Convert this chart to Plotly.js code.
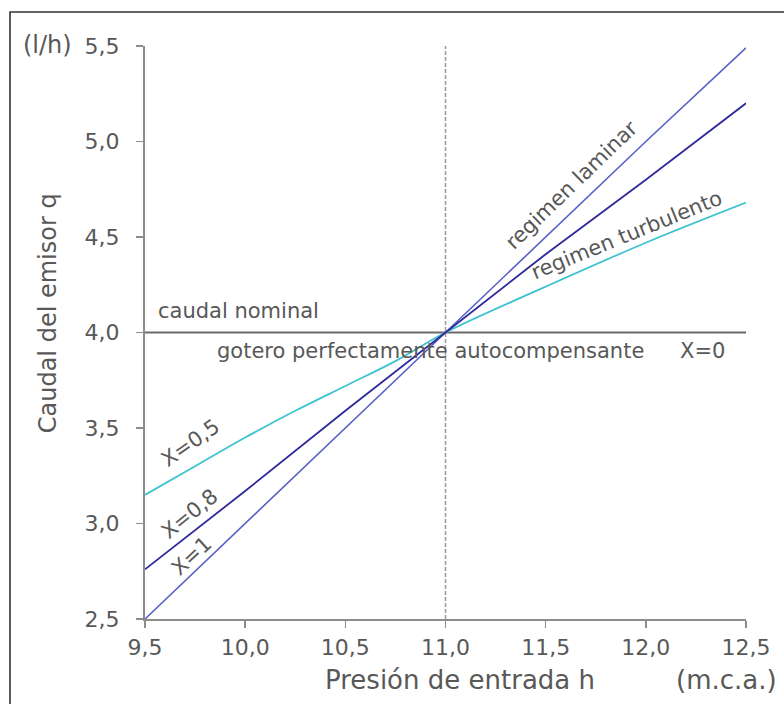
<!DOCTYPE html>
<html>
<head>
<meta charset="utf-8">
<script src="https://cdn.plot.ly/plotly-3.0.1.min.js"></script>
<style>
  html, body { margin: 0; padding: 0; background: #fff; }
  #chart { width: 784px; height: 704px; }
</style>
</head>
<body>
<div id="chart"></div>
<script>
// Presión de entrada h (m.c.a.)
const hFull = [9.5, 10.0, 10.5, 11.0, 11.5, 12.0, 12.5];
// X = 1 (régimen laminar)
const qX1 = [2.5, 3.0, 3.5, 4.0, 4.5, 5.0, 5.49];
// X = 0,8
const qX08 = [2.76, 3.17, 3.59, 4.0, 4.41, 4.80, 5.20];
// X = 0,5 (régimen turbulento)
const hX05 = [9.5, 9.75, 10.0, 10.25, 10.5, 10.75, 11.0, 11.5, 12.0, 12.5];
const qX05 = [3.15, 3.30, 3.45, 3.59, 3.72, 3.85, 4.0, 4.24, 4.47, 4.68];
// X = 0 (caudal nominal)
const hX0 = [9.5, 12.5];
const qX0 = [4.0, 4.0];
const xTicks = [9.5, 10.0, 10.5, 11.0, 11.5, 12.0, 12.5];
const yTicks = [2.5, 3.0, 3.5, 4.0, 4.5, 5.0, 5.5];
const hNominal = 11.0;

const font = "DejaVu Sans, Liberation Sans, Arial, sans-serif";
const txt = "#585858";

const traces = [
  { x: hX0, y: qX0, mode: "lines", line: { color: "#6b6b6b", width: 2 }, name: "X=0" },
  { x: hX05, y: qX05, mode: "lines", line: { color: "#3ec3d1", width: 1.8, shape: "spline" }, name: "X=0,5" },
  { x: hFull, y: qX1, mode: "lines", line: { color: "#5761c6", width: 1.6 }, name: "X=1" },
  { x: hFull, y: qX08, mode: "lines", line: { color: "#2f2a9c", width: 1.8 }, name: "X=0,8" }
];

function ann(text, x, y, opts) {
  return Object.assign({ text: text, x: x, y: y, xref: "x", yref: "y", showarrow: false,
    font: { family: font, size: 21, color: txt }, xanchor: "center", yanchor: "middle" }, opts || {});
}

const layout = {
  width: 784, height: 704,
  margin: { l: 145, r: 38, t: 46, b: 85 },
  paper_bgcolor: "#ffffff", plot_bgcolor: "#ffffff",
  separators: ",.",
  showlegend: false,
  font: { family: font, color: txt },
  xaxis: {
    range: [9.5, 12.5], tickvals: xTicks, tickformat: ".1f",
    showgrid: false, zeroline: false, showline: true, linecolor: "#8c8c8c", linewidth: 2,
    ticks: "outside", ticklen: 7, tickcolor: "#8c8c8c", tickwidth: 1.5,
    tickfont: { family: font, size: 22, color: txt }, ticklabelstandoff: 1
  },
  yaxis: {
    range: [2.5, 5.5], tickvals: yTicks, tickformat: ".1f",
    showgrid: false, zeroline: false, showline: true, linecolor: "#8c8c8c", linewidth: 2,
    ticks: "outside", ticklen: 7, tickcolor: "#8c8c8c", tickwidth: 1.5,
    tickfont: { family: font, size: 22, color: txt }, ticklabelstandoff: 12
  },
  shapes: [
    { type: "line", xref: "x", yref: "paper", x0: hNominal, x1: hNominal, y0: 0, y1: 1,
      line: { color: "#9a9a9a", width: 1.5, dash: "4px,2px" }, layer: "below" },
    { type: "path", xref: "paper", yref: "paper",
      path: "M -0.2246 -0.2 L -0.2246 1.0593 L 1.1 1.0593",
      line: { color: "#333333", width: 1.6 } }
  ],
  annotations: [
    ann("caudal nominal", 9.557, 4.11, { xanchor: "left" }),
    ann("gotero perfectamente autocompensante", 9.847, 3.905, { xanchor: "left" }),
    ann("X=0", 12.16, 3.905, { xanchor: "left" }),
    ann("regimen laminar", 11.63, 4.77, { textangle: -44 }),
    ann("regimen turbulento", 11.905, 4.51, { textangle: -22 }),
    ann("X=0,5", 9.727, 3.42, { textangle: -35 }),
    ann("X=0,8", 9.722, 3.05, { textangle: -39 }),
    ann("X=1", 9.732, 2.83, { textangle: -43 }),
    { text: "Caudal del emisor q", xref: "paper", yref: "paper", x: -0.161, y: 0.534,
      showarrow: false, textangle: -90, xanchor: "center", yanchor: "middle",
      font: { family: font, size: 24, color: txt } },
    { text: "(l/h)", xref: "paper", yref: "paper", x: -0.163, y: 1.002,
      showarrow: false, xanchor: "center", yanchor: "middle",
      font: { family: font, size: 24, color: txt } },
    { text: "Presión de entrada h", xref: "paper", yref: "paper", x: 0.524, y: -0.106,
      showarrow: false, xanchor: "center", yanchor: "middle",
      font: { family: font, size: 26, color: txt } },
    { text: "(m.c.a.)", xref: "paper", yref: "paper", x: 0.967, y: -0.106,
      showarrow: false, xanchor: "center", yanchor: "middle",
      font: { family: font, size: 26, color: txt } }
  ]
};

Plotly.newPlot("chart", traces, layout, { displayModeBar: false, staticPlot: true });
</script>
</body>
</html>
